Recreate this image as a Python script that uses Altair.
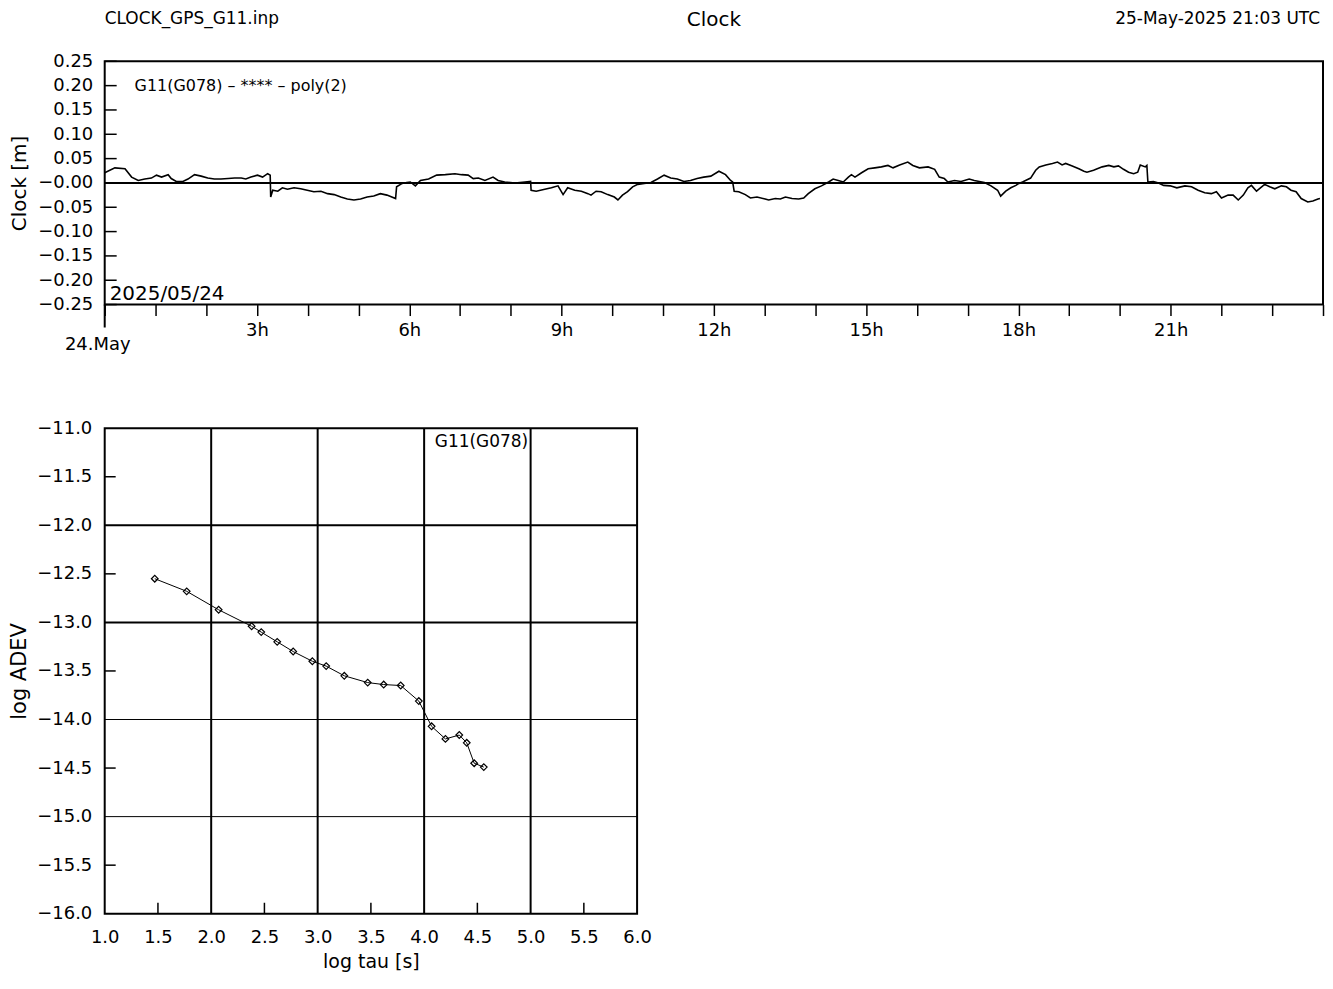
import altair as alt
import pandas as pd

# ---------------- data ----------------
clock_hours = [0.00, 0.20, 0.40, 0.53, 0.66, 0.79, 0.92, 1.02, 1.12, 1.25, 1.31, 1.41, 1.54, 1.64, 1.77,
               1.90, 2.03, 2.16, 2.29, 2.43, 2.56, 2.69, 2.78, 2.88, 3.01, 3.11, 3.21, 3.26, 3.27, 3.31,
               3.41, 3.50, 3.60, 3.73, 3.86, 3.99, 4.12, 4.26, 4.39, 4.52, 4.65, 4.78, 4.91, 5.04, 5.17,
               5.30, 5.43, 5.56, 5.73, 5.75, 5.86, 5.95, 6.02, 6.12, 6.22, 6.38, 6.54, 6.71, 6.90, 7.03,
               7.16, 7.26, 7.36, 7.49, 7.65, 7.75, 7.88, 8.08, 8.28, 8.39, 8.40, 8.50, 8.67, 8.80, 8.93,
               9.03, 9.12, 9.26, 9.39, 9.52, 9.58, 9.68, 9.78, 9.91, 10.04, 10.11, 10.20, 10.30, 10.40,
               10.50, 10.63, 10.76, 10.89, 11.02, 11.15, 11.28, 11.41, 11.54, 11.67, 11.80, 11.94, 12.10,
               12.23, 12.33, 12.37, 12.40, 12.49, 12.62, 12.72, 12.85, 13.01, 13.08, 13.21, 13.31, 13.41,
               13.54, 13.67, 13.77, 13.86, 13.99, 14.12, 14.26, 14.35, 14.45, 14.55, 14.65, 14.71, 14.78,
               14.91, 15.04, 15.17, 15.30, 15.43, 15.53, 15.66, 15.82, 15.92, 16.05, 16.22, 16.35, 16.44,
               16.54, 16.61, 16.74, 16.87, 17.03, 17.13, 17.23, 17.33, 17.46, 17.59, 17.65, 17.75, 17.85,
               17.95, 18.01, 18.08, 18.14, 18.24, 18.34, 18.41, 18.54, 18.67, 18.77, 18.86, 18.93, 19.06,
               19.19, 19.29, 19.35, 19.48, 19.65, 19.78, 19.88, 19.97, 20.07, 20.17, 20.27, 20.35, 20.40,
               20.50, 20.53, 20.55, 20.66, 20.76, 20.86, 20.99, 21.12, 21.28, 21.41, 21.54, 21.67, 21.80,
               21.90, 22.00, 22.13, 22.23, 22.33, 22.43, 22.52, 22.59, 22.69, 22.85, 22.95, 23.05, 23.18,
               23.28, 23.37, 23.47, 23.57, 23.70, 23.80, 23.90, 23.94]
clock_values = [0.021, 0.031, 0.029, 0.012, 0.005, 0.008, 0.010, 0.016, 0.012, 0.017, 0.009, 0.003, 0.003, 0.008, 0.017,
                0.014, 0.010, 0.008, 0.008, 0.009, 0.010, 0.010, 0.008, 0.012, 0.016, 0.012, 0.019, 0.016, -0.029, -0.015,
                -0.017, -0.010, -0.013, -0.010, -0.012, -0.015, -0.018, -0.017, -0.022, -0.024, -0.029, -0.033, -0.035, -0.033, -0.029,
                -0.027, -0.022, -0.025, -0.032, -0.008, -0.001, 0.001, 0.002, -0.006, 0.005, 0.008, 0.016, 0.017, 0.019, 0.017,
                0.016, 0.009, 0.010, 0.005, 0.012, 0.005, 0.002, 0.000, 0.002, 0.003, -0.015, -0.017, -0.013, -0.010, -0.006,
                -0.024, -0.010, -0.015, -0.017, -0.022, -0.025, -0.017, -0.018, -0.024, -0.029, -0.035, -0.025, -0.018, -0.008,
                -0.003, -0.001, 0.001, 0.008, 0.016, 0.010, 0.008, 0.003, 0.005, 0.009, 0.012, 0.014, 0.024,
                0.017, 0.005, 0.002, -0.017, -0.018, -0.024, -0.031, -0.029, -0.033, -0.035, -0.032, -0.033, -0.029,
                -0.032, -0.033, -0.031, -0.022, -0.012, -0.006, 0.002, 0.008, 0.005, 0.002, 0.012, 0.017, 0.012,
                0.021, 0.029, 0.031, 0.033, 0.036, 0.031, 0.037, 0.043, 0.036, 0.031, 0.033, 0.028, 0.012,
                0.009, 0.002, 0.005, 0.003, 0.008, 0.005, 0.003, 0.001, -0.006, -0.015, -0.027, -0.017, -0.010,
                -0.005, -0.001, 0.002, 0.005, 0.010, 0.026, 0.033, 0.037, 0.040, 0.043, 0.037, 0.040, 0.035,
                0.029, 0.024, 0.022, 0.026, 0.033, 0.036, 0.033, 0.035, 0.028, 0.022, 0.019, 0.022, 0.037,
                0.033, 0.036, 0.002, 0.003, 0.000, -0.005, -0.006, -0.010, -0.006, -0.008, -0.015, -0.020, -0.022,
                -0.018, -0.031, -0.025, -0.025, -0.035, -0.025, -0.010, -0.005, -0.017, -0.003, -0.008, -0.012, -0.006,
                -0.008, -0.015, -0.018, -0.032, -0.039, -0.037, -0.033, -0.032]

log_tau = [1.47, 1.77, 2.07, 2.38, 2.47, 2.62, 2.77, 2.95, 3.08, 3.25, 3.47, 3.62, 3.78, 3.95,
           4.07, 4.20, 4.33, 4.40, 4.47, 4.56]
log_adev = [-12.55, -12.68, -12.87, -13.04, -13.10, -13.20, -13.30, -13.40, -13.45, -13.55, -13.62,
            -13.64, -13.65, -13.81, -14.07, -14.20, -14.16, -14.24, -14.45, -14.49]

clock_hour_ticks = list(range(0, 25))
clock_y_ticks = [-0.25, -0.20, -0.15, -0.10, -0.05, 0.0, 0.05, 0.10, 0.15, 0.20, 0.25]
adev_x_labels = [1.0, 1.5, 2.0, 2.5, 3.0, 3.5, 4.0, 4.5, 5.0, 5.5, 6.0]
adev_y_labels = [-16.0, -15.5, -15.0, -14.5, -14.0, -13.5, -13.0, -12.5, -12.0, -11.5, -11.0]
adev_half_x = [1.5, 2.5, 3.5, 4.5, 5.5]
adev_half_y = [-15.5, -14.5, -13.5, -12.5, -11.5]
adev_grid_x = [2.0, 3.0, 4.0, 5.0]
adev_grid_y_thick = [-12.0, -13.0]
adev_grid_y_thin = [-14.0, -15.0]

header_left = "CLOCK_GPS_G11.inp"
header_mid = "Clock"
header_right = "25-May-2025 21:03 UTC"
top_label = "G11(G078) \u2013 **** \u2013 poly(2)"
date_label = "2025/05/24"
day_label = "24.May"
bottom_label = "G11(G078)"

FONT = "DejaVu Sans"
TW, TH = 1222, 244
BW, BH = 534, 487

# ---------------- top chart ----------------
tx_scale = alt.Scale(domain=[0, 24], nice=False, zero=False)
ty_scale = alt.Scale(domain=[-0.25, 0.25], nice=False, zero=False)
tx_axis = alt.Axis(values=clock_hour_ticks, tickSize=11, tickWidth=1.5, tickColor="black",
                   domain=False, grid=False, title=None, labelFontSize=18, labelPadding=6,
                   labelColor="black", labelFont=FONT, labelFlush=False, labelOverlap=False,
                   labelExpr="datum.value > 0 && datum.value < 24 && datum.value % 3 == 0 ? datum.value + 'h' : ''")
ty_axis = alt.Axis(values=clock_y_ticks, ticks=False, tickSize=0, domain=False, grid=False,
                   labelFontSize=18, labelPadding=12, labelColor="black", labelFont=FONT,
                   labelFlush=False, labelOverlap=False,
                   labelExpr="abs(datum.value) < 1e-9 ? '\u22120.00' : format(datum.value, '.2f')",
                   title="Clock [m]", titleFontSize=20, titleFontWeight="normal", titleColor="black",
                   titleFont=FONT, titleX=-85, titleY=TH / 2, titleBaseline="middle")


def tx(field):
    return alt.X(field, type="quantitative", scale=tx_scale, axis=tx_axis)


def ty(field):
    return alt.Y(field, type="quantitative", scale=ty_scale, axis=ty_axis)


clock_df = pd.DataFrame({"h": clock_hours, "v": clock_values})
clock_line = alt.Chart(clock_df).mark_line(color="black", strokeWidth=1.6).encode(x=tx("h"), y=ty("v"))

zero_line = alt.Chart(pd.DataFrame({"v": [0.0]})).mark_rule(color="black", strokeWidth=2).encode(y=ty("v"))

ytick_rules = alt.Chart(pd.DataFrame({"v": clock_y_ticks})).mark_rule(color="black", strokeWidth=1.5).encode(
    y=ty("v"), x=alt.value(0), x2=alt.value(12))

long_tick = alt.Chart(pd.DataFrame({"h": [0]})).mark_rule(color="black", strokeWidth=2).encode(
    x=tx("h"), y=alt.value(TH), y2=alt.value(TH + 23))


def text_layer(txt, size, align, baseline, x=None, y=None, df=None, enc_x=None, dx=0):
    d = df if df is not None else pd.DataFrame({"t": [txt]})
    if "t" not in d:
        d = d.assign(t=[txt] * len(d))
    m = alt.Chart(d).mark_text(fontSize=size, font=FONT, align=align, baseline=baseline,
                               color="black", dx=dx)
    enc = {"text": alt.Text("t:N")}
    enc["x"] = enc_x if enc_x is not None else alt.value(x)
    enc["y"] = alt.value(y)
    return m.encode(**enc)


h_left = text_layer(header_left, 17, "left", "alphabetic", x=0, y=-37)
h_mid = text_layer(header_mid, 20, "center", "alphabetic", x=TW / 2, y=-35)
h_right = text_layer(header_right, 17, "right", "alphabetic", x=TW - 3, y=-37)
t_label = text_layer(top_label, 16, "left", "middle", x=30, y=25)
d_label = text_layer(date_label, 20, "left", "alphabetic", x=5, y=239)
day_txt = text_layer(day_label, 18, "center", "middle", y=TH + 41,
                     df=pd.DataFrame({"h": [0]}), enc_x=tx("h"), dx=-7)

top = alt.layer(clock_line, zero_line, ytick_rules, long_tick, h_left, h_mid, h_right,
                t_label, d_label, day_txt).properties(width=TW, height=TH)

# ---------------- bottom chart ----------------
bx_scale = alt.Scale(domain=[1, 6], nice=False, zero=False)
by_scale = alt.Scale(domain=[-16, -11], nice=False, zero=False)
bx_axis = alt.Axis(values=adev_x_labels, format=".1f", ticks=False, tickSize=0, domain=False, grid=False,
                   labelFontSize=18, labelPadding=15, labelColor="black", labelFont=FONT,
                   labelFlush=False, labelOverlap=False,
                   title="log tau [s]", titleFontSize=19, titleFontWeight="normal", titleColor="black",
                   titleFont=FONT, titleY=39, titleBaseline="top")
by_axis = alt.Axis(values=adev_y_labels, format=".1f", ticks=False, tickSize=0, domain=False, grid=False,
                   labelFontSize=18, labelPadding=13, labelColor="black", labelFont=FONT,
                   labelFlush=False, labelOverlap=False,
                   title="log ADEV", titleFontSize=21, titleFontWeight="normal", titleColor="black",
                   titleFont=FONT, titleX=-85, titleY=BH / 2, titleBaseline="middle")


def bx(field):
    return alt.X(field, type="quantitative", scale=bx_scale, axis=bx_axis)


def by(field):
    return alt.Y(field, type="quantitative", scale=by_scale, axis=by_axis)


grid_v = alt.Chart(pd.DataFrame({"x": adev_grid_x})).mark_rule(color="black", strokeWidth=2).encode(x=bx("x"))
grid_h1 = alt.Chart(pd.DataFrame({"y": adev_grid_y_thick})).mark_rule(color="black", strokeWidth=2).encode(y=by("y"))
grid_h2 = alt.Chart(pd.DataFrame({"y": adev_grid_y_thin})).mark_rule(color="black", strokeWidth=1).encode(y=by("y"))
ticks_x = alt.Chart(pd.DataFrame({"x": adev_half_x})).mark_rule(color="black", strokeWidth=1.5).encode(
    x=bx("x"), y=alt.value(BH), y2=alt.value(BH - 11))
ticks_y = alt.Chart(pd.DataFrame({"y": adev_half_y})).mark_rule(color="black", strokeWidth=1.5).encode(
    y=by("y"), x=alt.value(0), x2=alt.value(11))

adev_df = pd.DataFrame({"x": log_tau, "y": log_adev})
adev_line = alt.Chart(adev_df).mark_line(color="black", strokeWidth=1).encode(x=bx("x"), y=by("y"))
adev_pts = alt.Chart(adev_df).mark_point(shape="diamond", filled=False, size=45, color="black",
                                         strokeWidth=1.2, opacity=1).encode(x=bx("x"), y=by("y"))
b_label = text_layer(bottom_label, 17, "left", "middle", y=14,
                     df=pd.DataFrame({"x": [4.1]}), enc_x=bx("x"))

bottom = alt.layer(grid_v, grid_h1, grid_h2, ticks_x, ticks_y, adev_line, adev_pts, b_label).properties(
    width=BW, height=BH)

chart = alt.vconcat(top, bottom, spacing=124, bounds="flush").properties(
    padding=0, background="white"
).configure(font=FONT).configure_view(stroke="black", strokeWidth=2)

chart.save("out.html", embed_options={"renderer": "svg", "actions": False})
